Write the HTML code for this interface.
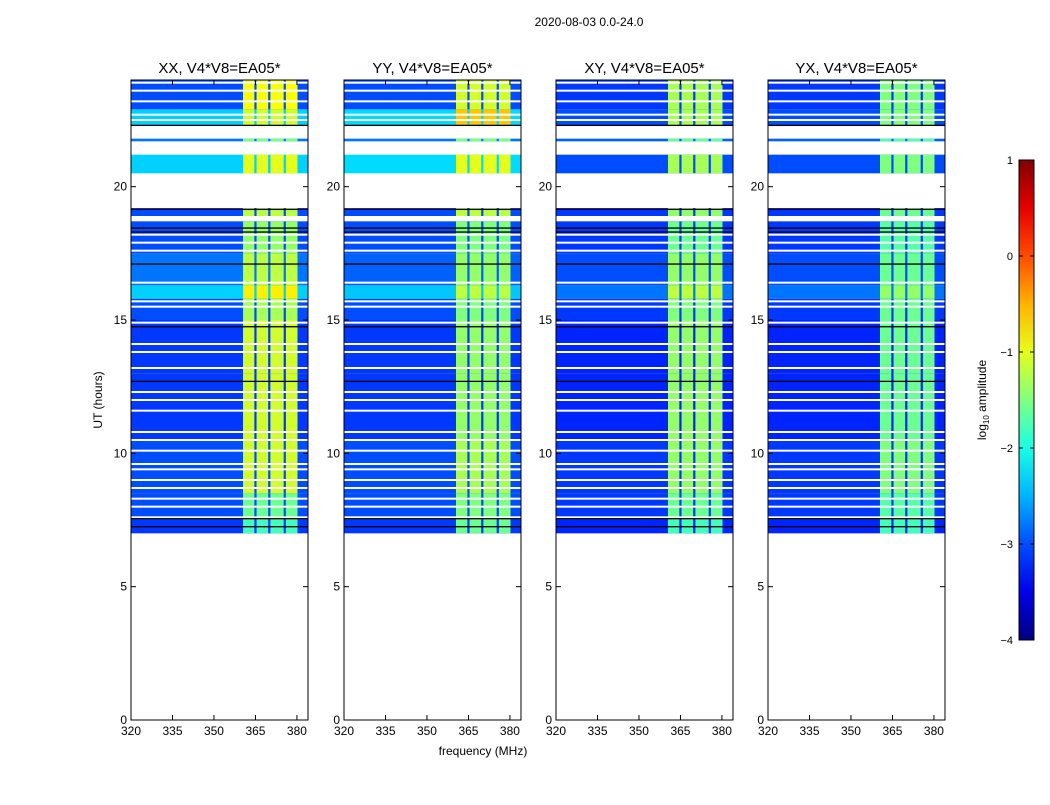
<!DOCTYPE html>
<html><head><meta charset="utf-8"><style>
body{margin:0;background:#fff;}
svg text{font-family:"Liberation Sans","DejaVu Sans",sans-serif;fill:#000;}
</style></head><body>
<svg id="fig" width="1050" height="800" viewBox="0 0 1050 800" xmlns="http://www.w3.org/2000/svg">
<text x="589" y="26" font-size="12" text-anchor="middle">2020-08-03 0.0-24.0</text>
<text transform="translate(102,400) rotate(-90)" font-size="12" text-anchor="middle">UT (hours)</text>
<text x="483" y="755" font-size="12" text-anchor="middle">frequency (MHz)</text>
<g id="panels"></g>
<g id="cbar"></g>
<text transform="translate(986,400) rotate(-90)" font-size="12" text-anchor="middle">log<tspan font-size="8" dy="3">10</tspan><tspan dy="-3"> amplitude</tspan></text>
</svg>
<script>
const categories = ["XX","YY","XY","YX"];
const panelTitles = ["XX, V4*V8=EA05*","YY, V4*V8=EA05*","XY, V4*V8=EA05*","YX, V4*V8=EA05*"];
const segStart = [7.0,7.5,8.5,10.5,13.0,15.0,15.8,16.3,17.5,18.9,20.5,21.7,22.3,22.9];
const segEnd   = [7.5,8.5,10.5,13.0,15.0,15.8,16.3,17.5,18.7,19.2,21.2,21.8,22.9,24.0];
const bgXX   = [-3.1,-3.0,-3.0,-3.1,-3.1,-3.0,-2.35,-2.8,-3.0,-3.0,-2.35,-2.8,-2.35,-3.0];
const bandXX = [-1.8,-1.6,-1.1,-1.1,-1.1,-1.3,-0.8,-1.2,-1.4,-1.2,-1.0,-1.5,-1.1,-0.9];
const bgYY   = [-3.1,-3.0,-3.0,-3.1,-3.1,-3.0,-2.4,-2.9,-3.0,-3.0,-2.3,-2.8,-2.3,-3.0];
const bandYY = [-1.6,-1.5,-1.3,-1.4,-1.4,-1.5,-1.2,-1.4,-1.5,-1.2,-1.0,-1.5,-0.6,-1.1];
const bgXY   = [-3.2,-3.1,-3.1,-3.2,-3.2,-3.1,-2.8,-3.0,-3.1,-3.1,-3.0,-2.9,-3.0,-3.1];
const bandXY = [-1.8,-1.6,-1.4,-1.4,-1.4,-1.5,-1.2,-1.4,-1.6,-1.4,-1.3,-1.6,-1.3,-1.3];
const bgYX   = [-3.2,-3.1,-3.1,-3.2,-3.2,-3.1,-2.8,-3.0,-3.1,-3.1,-3.0,-2.9,-3.0,-3.1];
const bandYX = [-1.8,-1.7,-1.5,-1.6,-1.6,-1.6,-1.4,-1.6,-1.7,-1.6,-1.5,-1.7,-1.5,-1.5];
const bandLo = [360.5,365.4,370.4,376.0];
const bandHi = [364.6,369.6,375.2,380.2];
const whiteLines = [7.6,8.0,8.3,8.7,9.0,9.4,9.6,10.1,10.5,10.8,11.6,12.0,12.3,13.2,13.8,14.1,14.9,15.5,15.7,16.4,17.6,17.9,18.2,22.5,22.7,23.2,23.6,23.9];
const blackLines = [7.25,7.55,12.7,14.75,17.1,18.3,18.45,19.15,22.3];
const yTicks = [0,5,10,15,20];
const xTicks = [320,335,350,365,380];
const cbTicks = [1,0,-1,-2,-3,-4];

const bgs=[bgXX,bgYY,bgXY,bgYX], bands=[bandXX,bandYY,bandXY,bandYX];
const lefts=[131,344,556,768], PW=177, TOP=80, BOT=720, F0=320, F1=384, T1=24;
const NS="http://www.w3.org/2000/svg";
function jet(v){v=(v+4)/5;v=Math.max(0,Math.min(1,v));
 const c=x=>Math.round(255*Math.max(0,Math.min(1,1.5-Math.abs(4*v-x))));
 return `rgb(${c(3)},${c(2)},${c(1)})`;}
function mk(tag,attrs,parent){const e=document.createElementNS(NS,tag);for(const k in attrs)e.setAttribute(k,attrs[k]);parent.appendChild(e);return e;}
const yS=t=>BOT-(t/T1)*(BOT-TOP);
const root=document.getElementById('panels');
categories.forEach((cat,p)=>{
 const L=lefts[p]; const xS=f=>L+(f-F0)/(F1-F0)*PW;
 const g=mk('g',{},root);
 
 
 segStart.forEach((s,i)=>{
  const y0=yS(segEnd[i]), y1=yS(s);
  const r=mk('rect',{x:L,y:y0,width:PW,height:y1-y0,fill:jet(bgs[p][i])},g);
  
  
  bandLo.forEach((lo,j)=>{
   const b=mk('rect',{x:xS(lo),y:y0,width:xS(bandHi[j])-xS(lo),height:y1-y0,fill:jet(bands[p][i])},g);
   
   
  });
 });
 whiteLines.forEach(t=>{const l=mk('rect',{x:L,y:yS(t)-1,width:PW,height:2,fill:'#fff'},g);
  
  });
 blackLines.forEach(t=>{const l=mk('rect',{x:L,y:yS(t)-0.6,width:PW,height:1.3,fill:'#000'},g);
  
  });
 const fr=mk('rect',{x:L,y:TOP,width:PW,height:BOT-TOP,fill:'none',stroke:'#000','stroke-width':1},g);
 
 
 const tt=mk('text',{x:L+PW/2,y:73,'font-size':15,'text-anchor':'middle'},g);tt.textContent=panelTitles[p];
 
 
 yTicks.forEach(t=>{const y=yS(t);
  mk('line',{x1:L,x2:L+5,y1:y,y2:y,stroke:'#000'},g);mk('line',{x1:L+PW-5,x2:L+PW,y1:y,y2:y,stroke:'#000'},g);
  const tx=mk('text',{x:L-4,y:y+4,'font-size':12,'text-anchor':'end'},g);tx.textContent=t;
  
  });
 xTicks.forEach(f=>{const x=xS(f);
  mk('line',{x1:x,x2:x,y1:BOT,y2:BOT-5,stroke:'#000'},g);mk('line',{x1:x,x2:x,y1:TOP,y2:TOP+5,stroke:'#000'},g);
  const tx=mk('text',{x:x,y:BOT+15,'font-size':12,'text-anchor':'middle'},g);tx.textContent=f;
  
  });
});
const cb=document.getElementById('cbar');
const CX=1019,CW=15,CT=160,CB=640;
const cy=v=>CB-(v+4)/5*(CB-CT);
const defs=mk('defs',{},cb);
const grad=mk('linearGradient',{id:'jetg',x1:0,y1:1,x2:0,y2:0},defs);
[-4,-3.5,-3,-2.5,-2,-1.5,-1,-0.5,0,0.5,1].forEach((v,i)=>mk('stop',{offset:(v+4)/5,'stop-color':jet(v)},grad));
mk('rect',{x:CX,y:CT,width:CW,height:CB-CT,fill:'url(#jetg)',stroke:'#000'},cb);
cbTicks.forEach(v=>{const y=cy(v);
 mk('line',{x1:CX,x2:CX+4,y1:y,y2:y,stroke:'#000'},cb);mk('line',{x1:CX+CW-4,x2:CX+CW,y1:y,y2:y,stroke:'#000'},cb);
 const tx=mk('text',{x:1013,y:y+4,'font-size':11,'text-anchor':'end'},cb);tx.textContent=(v<0?'\u2212'+(-v):v);
 
 });
</script>
</body></html>
